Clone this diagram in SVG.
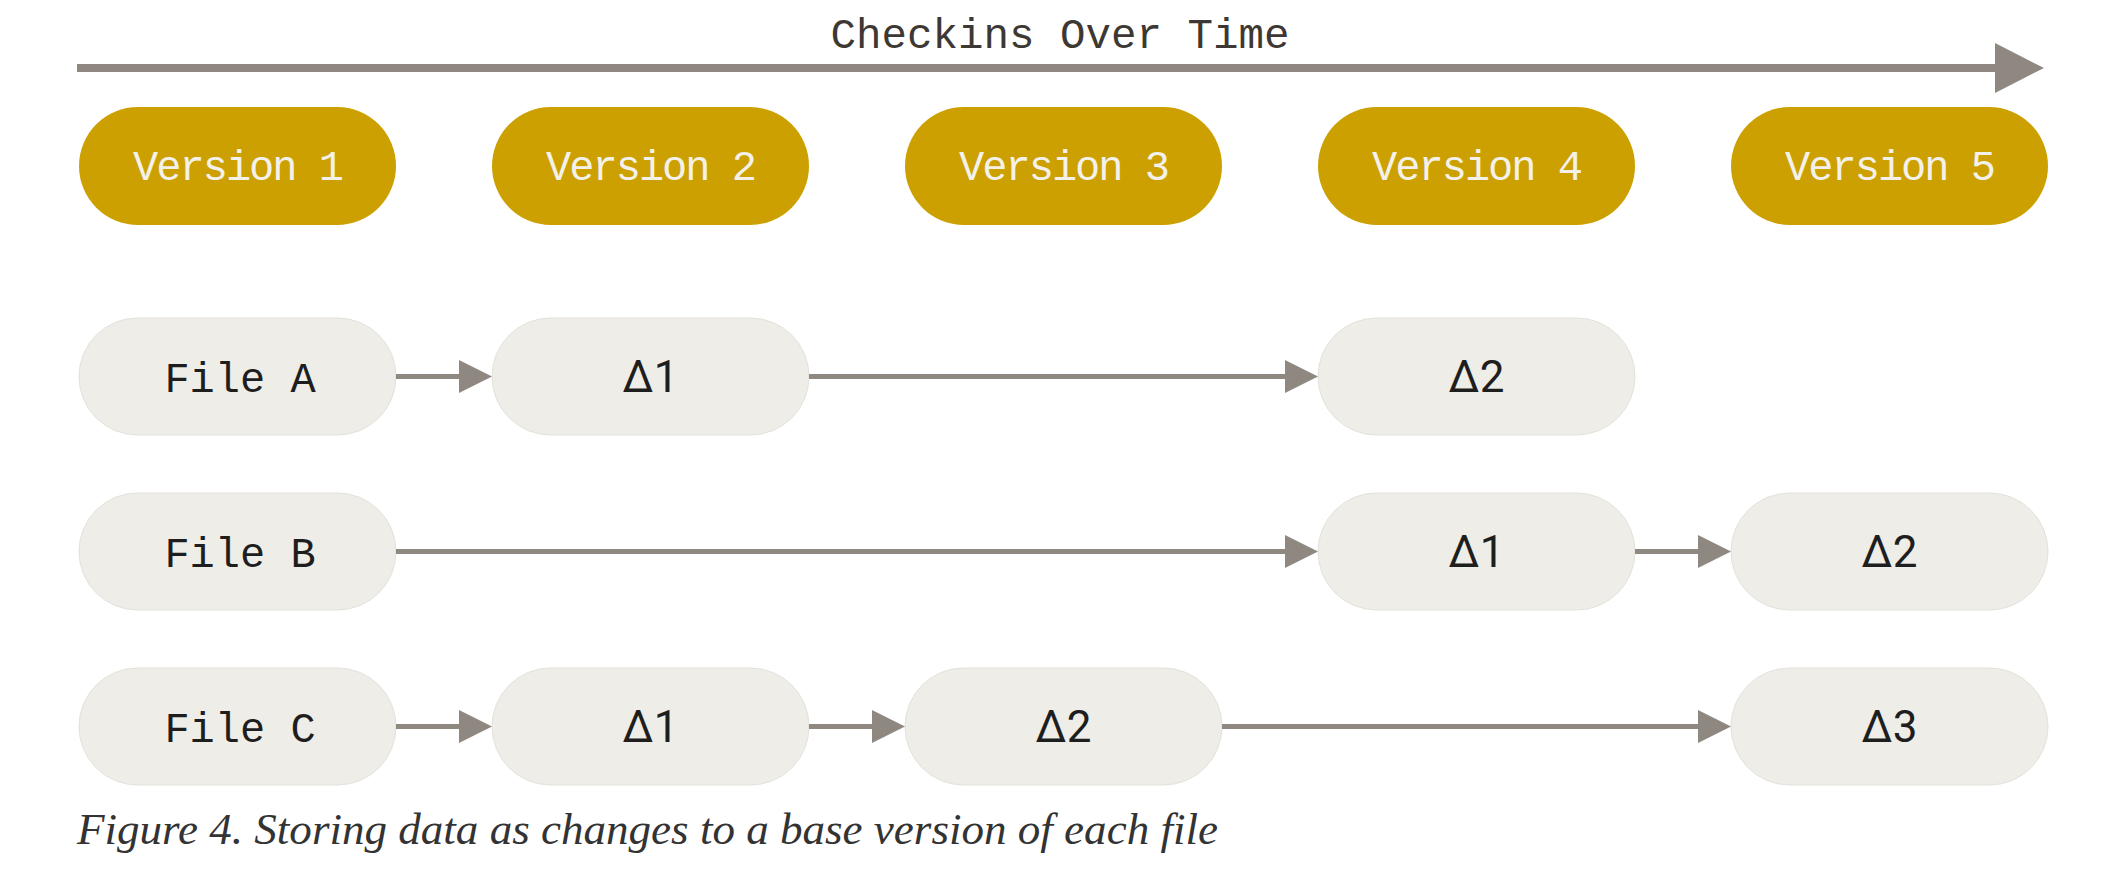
<svg xmlns="http://www.w3.org/2000/svg" width="2111" height="880" viewBox="0 0 2111 880">
  <defs>
    <style>
      .ver rect { fill: #cca000; }
      .ver text { fill: #f3f1ea; font-family: "Liberation Mono", "DejaVu Sans Mono", monospace; font-size: 42px; letter-spacing: -2px; text-anchor: middle; }
      .file rect { fill: #eeede7; stroke: #e3e1da; stroke-width: 1; }
      .file text { fill: #1e1e1e; font-family: "Liberation Mono", "DejaVu Sans Mono", monospace; font-size: 42px; text-anchor: middle; }
      .file text.d { font-family: Roboto, "Liberation Sans", sans-serif; font-size: 44px; }
      .conn line { stroke: #8f8881; stroke-width: 5; fill: none; }
      .title { fill: #3d3833; font-family: "Liberation Mono", "DejaVu Sans Mono", monospace; font-size: 42.5px; text-anchor: middle; }
      .caption { fill: #333333; font-family: "Liberation Serif", serif; font-style: italic; font-size: 44px; }
    </style>
    <marker id="ah" markerUnits="userSpaceOnUse" markerWidth="34" markerHeight="34" refX="4" refY="16.5" orient="auto" viewBox="0 0 34 34">
      <path d="M0,0 L33,16.5 L0,33 Z" fill="#8f8881"/>
    </marker>
  </defs>
  <rect width="2111" height="880" fill="#ffffff"/>

  <g id="timeline">
    <text class="title" x="1060" y="48">Checkins Over Time</text>
    <line x1="77" y1="68" x2="1997" y2="68" stroke="#8f8881" stroke-width="8"/>
    <polygon points="1995,43 2044,68 1995,93" fill="#8f8881"/>
  </g>

  <g id="version1" class="ver"><rect x="79" y="107" width="317" height="118" rx="59"/><text x="237.5" y="180">Version 1</text></g>
  <g id="version2" class="ver"><rect x="492" y="107" width="317" height="118" rx="59"/><text x="650.5" y="180">Version 2</text></g>
  <g id="version3" class="ver"><rect x="905" y="107" width="317" height="118" rx="59"/><text x="1063.5" y="180">Version 3</text></g>
  <g id="version4" class="ver"><rect x="1318" y="107" width="317" height="118" rx="59"/><text x="1476.5" y="180">Version 4</text></g>
  <g id="version5" class="ver"><rect x="1731" y="107" width="317" height="118" rx="59"/><text x="1889.5" y="180">Version 5</text></g>

  <g id="fileA" class="file"><rect x="79" y="318" width="317" height="117" rx="58.5"/><text x="240" y="392">File A</text></g>
  <g id="fileA_d1" class="file"><rect x="492" y="318" width="317" height="117" rx="58.5"/><text class="d" x="650.5" y="392">Δ1</text></g>
  <g id="fileA_d2" class="file"><rect x="1318" y="318" width="317" height="117" rx="58.5"/><text class="d" x="1476.5" y="392">Δ2</text></g>

  <g id="fileB" class="file"><rect x="79" y="493" width="317" height="117" rx="58.5"/><text x="240" y="567">File B</text></g>
  <g id="fileB_d1" class="file"><rect x="1318" y="493" width="317" height="117" rx="58.5"/><text class="d" x="1476.5" y="567">Δ1</text></g>
  <g id="fileB_d2" class="file"><rect x="1731" y="493" width="317" height="117" rx="58.5"/><text class="d" x="1889.5" y="567">Δ2</text></g>

  <g id="fileC" class="file"><rect x="79" y="668" width="317" height="117" rx="58.5"/><text x="240" y="742">File C</text></g>
  <g id="fileC_d1" class="file"><rect x="492" y="668" width="317" height="117" rx="58.5"/><text class="d" x="650.5" y="742">Δ1</text></g>
  <g id="fileC_d2" class="file"><rect x="905" y="668" width="317" height="117" rx="58.5"/><text class="d" x="1063.5" y="742">Δ2</text></g>
  <g id="fileC_d3" class="file"><rect x="1731" y="668" width="317" height="117" rx="58.5"/><text class="d" x="1889.5" y="742">Δ3</text></g>

  <g id="connectors" class="conn">
    <line x1="396" y1="376.5" x2="463" y2="376.5" marker-end="url(#ah)"/>
    <line x1="809" y1="376.5" x2="1289" y2="376.5" marker-end="url(#ah)"/>
    <line x1="396" y1="551.5" x2="1289" y2="551.5" marker-end="url(#ah)"/>
    <line x1="1635" y1="551.5" x2="1702" y2="551.5" marker-end="url(#ah)"/>
    <line x1="396" y1="726.5" x2="463" y2="726.5" marker-end="url(#ah)"/>
    <line x1="809" y1="726.5" x2="876" y2="726.5" marker-end="url(#ah)"/>
    <line x1="1222" y1="726.5" x2="1702" y2="726.5" marker-end="url(#ah)"/>
  </g>

  <text class="caption" x="77" y="844" textLength="1141" lengthAdjust="spacingAndGlyphs">Figure 4. Storing data as changes to a base version of each file</text>
</svg>
